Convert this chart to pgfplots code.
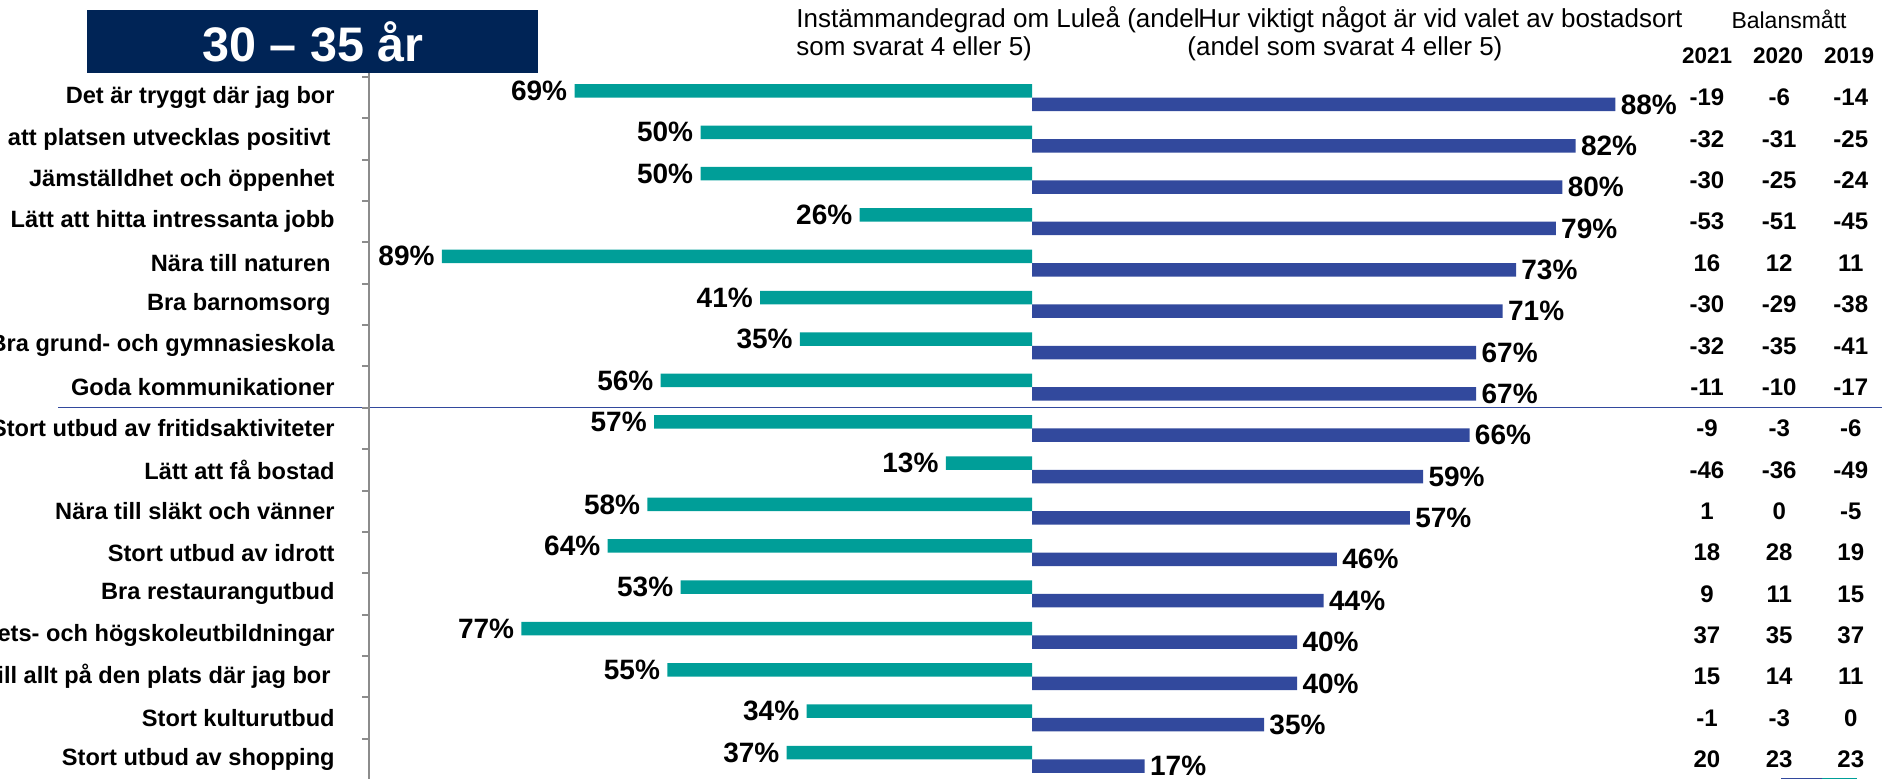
\documentclass[border=0pt]{standalone}
\usepackage{fontspec}
\setmainfont{Liberation Sans}
\usepackage{pgfplots}
\pgfplotsset{compat=1.18}
\definecolor{tealc}{RGB}{0,158,152}
\definecolor{bluec}{RGB}{50,73,157}
\definecolor{navy}{RGB}{0,36,86}
\definecolor{axgray}{RGB}{140,140,140}
\begin{document}
\begin{tikzpicture}
% title box and headers (1 px of reference = 0.5pt)
\begin{scope}[x=0.5pt,y=-0.5pt]
\fill[navy] (87,10) rectangle (538,73);
\node[text=white,font=\bfseries\fontsize{24.25pt}{28pt}\selectfont] at (313,42) {30 – 35 år};
\node[anchor=base west,inner sep=0pt,font=\fontsize{13pt}{15pt}\selectfont] at (796,28) {Instämmandegrad om Luleå (andel};
\node[anchor=base west,inner sep=0pt,font=\fontsize{13pt}{15pt}\selectfont] at (796,56) {som svarat 4 eller 5)};
\node[anchor=base west,inner sep=0pt,font=\fontsize{13pt}{15pt}\selectfont] at (1198,28) {Hur viktigt något är vid valet av bostadsort};
\node[anchor=base west,inner sep=0pt,font=\fontsize{13pt}{15pt}\selectfont] at (1187,56) {(andel som svarat 4 eller 5)};
\node[anchor=base,inner sep=0pt,font=\fontsize{11.5pt}{13pt}\selectfont] at (1789,29) {Balansmått};
\node[anchor=base,inner sep=0pt,font=\bfseries\fontsize{11.25pt}{13pt}\selectfont] at (1707,64) {2021};
\node[anchor=base,inner sep=0pt,font=\bfseries\fontsize{11.25pt}{13pt}\selectfont] at (1778,64) {2020};
\node[anchor=base,inner sep=0pt,font=\bfseries\fontsize{11.25pt}{13pt}\selectfont] at (1849,64) {2019};
\draw[axgray,line width=1pt] (369,73) -- (369,78);
\draw[bluec,line width=0.75pt] (58,407.5) -- (1882,407.5);
\draw[bluec,line width=1pt] (1781,778.5) -- (1822,778.5);
\draw[tealc,line width=1pt] (1822,778.5) -- (1857,778.5);
\end{scope}
\begin{axis}[
  at={(184.5pt,-38.5pt)}, anchor=north west,
  scale only axis, width=663pt, height=351.5pt,
  xmin=-100, xmax=100, ymin=0.5, ymax=17.5,
  y dir=reverse, enlargelimits=false, clip=false,
  axis x line=none, axis y line*=left,
  y axis line style={-, draw=axgray, line width=1pt},
  tick align=outside, major tick length=0pt,
  ytick={1,...,17},
  yticklabels={Det är tryggt där jag bor, att platsen utvecklas positivt\hspace*{2pt}, Jämställdhet och öppenhet, Lätt att hitta intressanta jobb, Nära till naturen\hspace*{2pt}, Bra barnomsorg\hspace*{2pt}, Bra grund- och gymnasieskola, Goda kommunikationer, Stort utbud av fritidsaktiviteter, Lätt att få bostad, Nära till släkt och vänner, Stort utbud av idrott, Bra restaurangutbud, Bra universitets- och högskoleutbildningar, Nära till allt på den plats där jag bor\hspace*{2pt}, Stort kulturutbud, Stort utbud av shopping},
  yticklabel style={anchor=east, inner sep=0pt, xshift=-17pt, font=\bfseries\fontsize{11.8pt}{14pt}\selectfont},
  extra y ticks={0.5,1.5,...,17.5},
  extra y tick labels={},
  extra y tick style={major tick length=3.5pt, tick style={draw=axgray, line width=1pt}},
  legend=none,
]
\addplot[xbar, bar shift=0pt, bar width=0.3265, fill=tealc, draw=none,
  point meta=explicit symbolic, nodes near coords={\pgfplotspointmeta\%},
  every node near coord/.append style={anchor=east, text=black, inner sep=3.5pt, font=\bfseries\fontsize{14pt}{16pt}\selectfont}]
coordinates {(-69,0.837)[69] (-50,1.837)[50] (-50,2.837)[50] (-26,3.837)[26] (-89,4.837)[89] (-41,5.837)[41] (-35,6.837)[35] (-56,7.837)[56] (-57,8.837)[57] (-13,9.837)[13] (-58,10.837)[58] (-64,11.837)[64] (-53,12.837)[53] (-77,13.837)[77] (-55,14.837)[55] (-34,15.837)[34] (-37,16.837)[37]};
\addplot[xbar, bar shift=0pt, bar width=0.3265, fill=bluec, draw=none,
  point meta=explicit symbolic, nodes near coords={\pgfplotspointmeta\%},
  every node near coord/.append style={anchor=west, text=black, inner sep=2.5pt, font=\bfseries\fontsize{14pt}{16pt}\selectfont}]
coordinates {(88,1.163)[88] (82,2.163)[82] (80,3.163)[80] (79,4.163)[79] (73,5.163)[73] (71,6.163)[71] (67,7.163)[67] (67,8.163)[67] (66,9.163)[66] (59,10.163)[59] (57,11.163)[57] (46,12.163)[46] (44,13.163)[44] (40,14.163)[40] (40,15.163)[40] (35,16.163)[35] (17,17.163)[17]};
% Balansmått 2021
\addplot[draw=none, mark=none, point meta=explicit symbolic, nodes near coords={\pgfplotspointmeta},
  every node near coord/.append style={anchor=center, text=black, inner sep=0pt, font=\bfseries\fontsize{12pt}{14pt}\selectfont}]
coordinates {(101.8,1)[-19] (101.8,2)[-32] (101.8,3)[-30] (101.8,4)[-53] (101.8,5)[16] (101.8,6)[-30] (101.8,7)[-32] (101.8,8)[-11] (101.8,9)[-9] (101.8,10)[-46] (101.8,11)[1] (101.8,12)[18] (101.8,13)[9] (101.8,14)[37] (101.8,15)[15] (101.8,16)[-1] (101.8,17)[20]};
% 2020
\addplot[draw=none, mark=none, point meta=explicit symbolic, nodes near coords={\pgfplotspointmeta},
  every node near coord/.append style={anchor=center, text=black, inner sep=0pt, font=\bfseries\fontsize{12pt}{14pt}\selectfont}]
coordinates {(112.7,1)[-6] (112.7,2)[-31] (112.7,3)[-25] (112.7,4)[-51] (112.7,5)[12] (112.7,6)[-29] (112.7,7)[-35] (112.7,8)[-10] (112.7,9)[-3] (112.7,10)[-36] (112.7,11)[0] (112.7,12)[28] (112.7,13)[11] (112.7,14)[35] (112.7,15)[14] (112.7,16)[-3] (112.7,17)[23]};
% 2019
\addplot[draw=none, mark=none, point meta=explicit symbolic, nodes near coords={\pgfplotspointmeta},
  every node near coord/.append style={anchor=center, text=black, inner sep=0pt, font=\bfseries\fontsize{12pt}{14pt}\selectfont}]
coordinates {(123.5,1)[-14] (123.5,2)[-25] (123.5,3)[-24] (123.5,4)[-45] (123.5,5)[11] (123.5,6)[-38] (123.5,7)[-41] (123.5,8)[-17] (123.5,9)[-6] (123.5,10)[-49] (123.5,11)[-5] (123.5,12)[19] (123.5,13)[15] (123.5,14)[37] (123.5,15)[11] (123.5,16)[0] (123.5,17)[23]};
\end{axis}
\pgfresetboundingbox
\path[use as bounding box] (0,0) rectangle (941pt,-389.5pt);
\end{tikzpicture}
\end{document}
